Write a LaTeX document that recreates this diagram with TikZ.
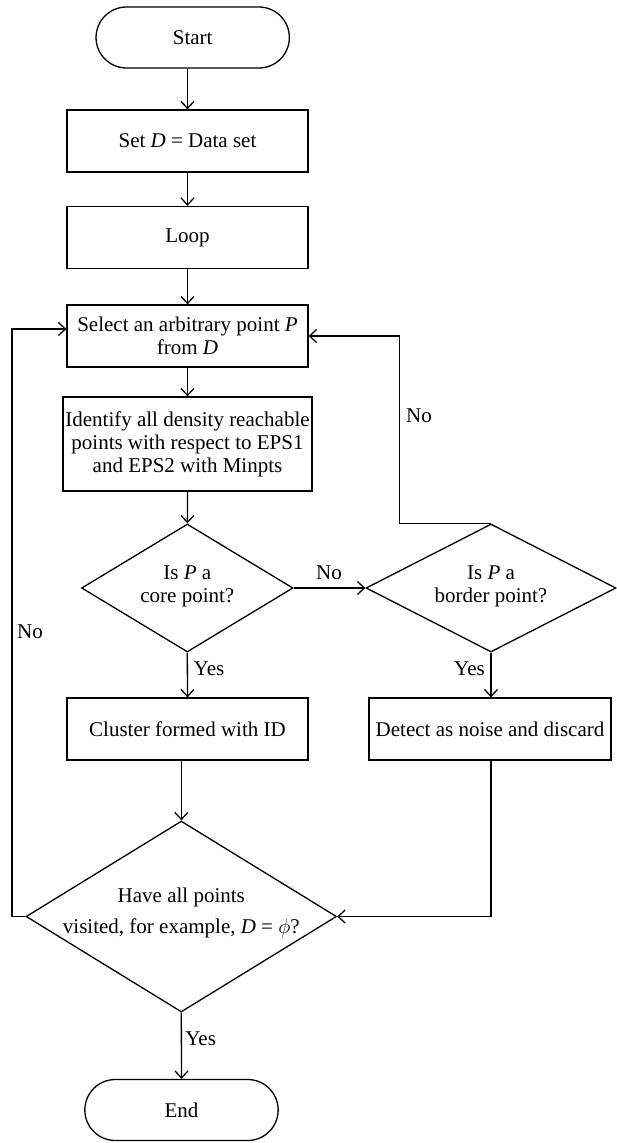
\documentclass[tikz,border=0pt]{standalone}
\usepackage{fontspec}
\setmainfont{Liberation Serif}
\usetikzlibrary{shapes.geometric,shapes.misc,arrows.meta}

\tikzset{
  terminal/.style={draw, rounded rectangle, minimum width=200pt, minimum height=61pt},
  box/.style={draw, rectangle, minimum width=241pt, minimum height=62pt, align=center, inner sep=2pt},
  decision/.style={draw, diamond, inner sep=0pt},
  dtext/.style={align=center, inner sep=0pt},
  arrow/.style={-{Straight Barb[length=7pt,width=13pt]}},
}

\begin{document}
\begin{tikzpicture}[x=1pt, y=-1pt, line width=1.3pt, font=\fontsize{21}{23}\selectfont]
    \useasboundingbox (0,0) rectangle (617,1143);

    % Start and preparation
    \node[terminal] (start) at (192.7,37.5) {Start};
    \node[box] (setd) at (187.5,141) {Set \textit{D} = Data set};
    \node[box] (loop) at (187.5,237.5) {Loop};
    \node[box] (select) at (187.5,336) {Select an arbitrary point \textit{P}\\from \textit{D}};
    \node[box, minimum width=249pt, minimum height=94pt] (ident) at (187.5,444)
        {Identify all density reachable\\points with respect to EPS1\\and EPS2 with Minpts};

    % Decisions
    \node[decision, minimum width=211.5pt, minimum height=128pt] (core) at (187.3,588) {};
    \node[dtext] (coretxt) at (187.3,586) {Is \textit{P} a\\core point?};
    \node[decision, minimum width=250pt, minimum height=128pt] (border) at (491,588) {};
    \node[dtext] (bordertxt) at (491,586) {Is \textit{P} a\\border point?};

    % Outcomes
    \node[box] (cluster) at (187.5,729) {Cluster formed with ID};
    \node[box, minimum width=242pt] (detect) at (490,729) {Detect as noise and discard};

    % Final check and end
    \node[decision, minimum width=310.5pt, minimum height=191pt] (visit) at (181.3,916.5) {};
    \node[dtext] (visittxt) at (181.3,913) {Have all points\\[8pt]visited, for example, \textit{D} = $\phi$?};
    \node[terminal] (end) at (181.5,1110) {End};

    % Turning points of the loops
    \coordinate (rturn) at (399.5,0);
    \coordinate (lturn) at (12,0);

    % Main flow
    \draw[arrow] (start.south -| setd.north) -- (setd.north);
    \draw[arrow] (setd) -- (loop);
    \draw[arrow] (loop) -- (select);
    \draw[arrow] (select) -- (ident);
    \draw[arrow] (ident) -- (core);
    \draw[arrow] (core.east) -- (border.west);
    \draw[arrow] (core.south) -- (cluster.north);
    \draw[arrow] (border.south) -- (border.south |- detect.north);
    \draw[arrow] (cluster.south -| visit.north) -- (visit.north);
    \draw[arrow] (border.south |- detect.south) |- (visit.east);
    \draw[arrow] (visit.south) -- (end.north);

    % Back loops
    \draw[arrow] (border.north) -- (border.north -| rturn) |- (select.east);
    \draw[arrow] (visit.west) -- (visit.west -| lturn) |- ([yshift=7pt]select.west);

    % Labels
    \node (nocore) at (329,573) {No};
    \node (noborder) at (419,416) {No};
    \node (novisit) at (30,632) {No};
    \node (yescore) at (209,669) {Yes};
    \node (yesborder) at (469.5,669) {Yes};
    \node (yesvisit) at (200.7,1039) {Yes};
\end{tikzpicture}
\end{document}
